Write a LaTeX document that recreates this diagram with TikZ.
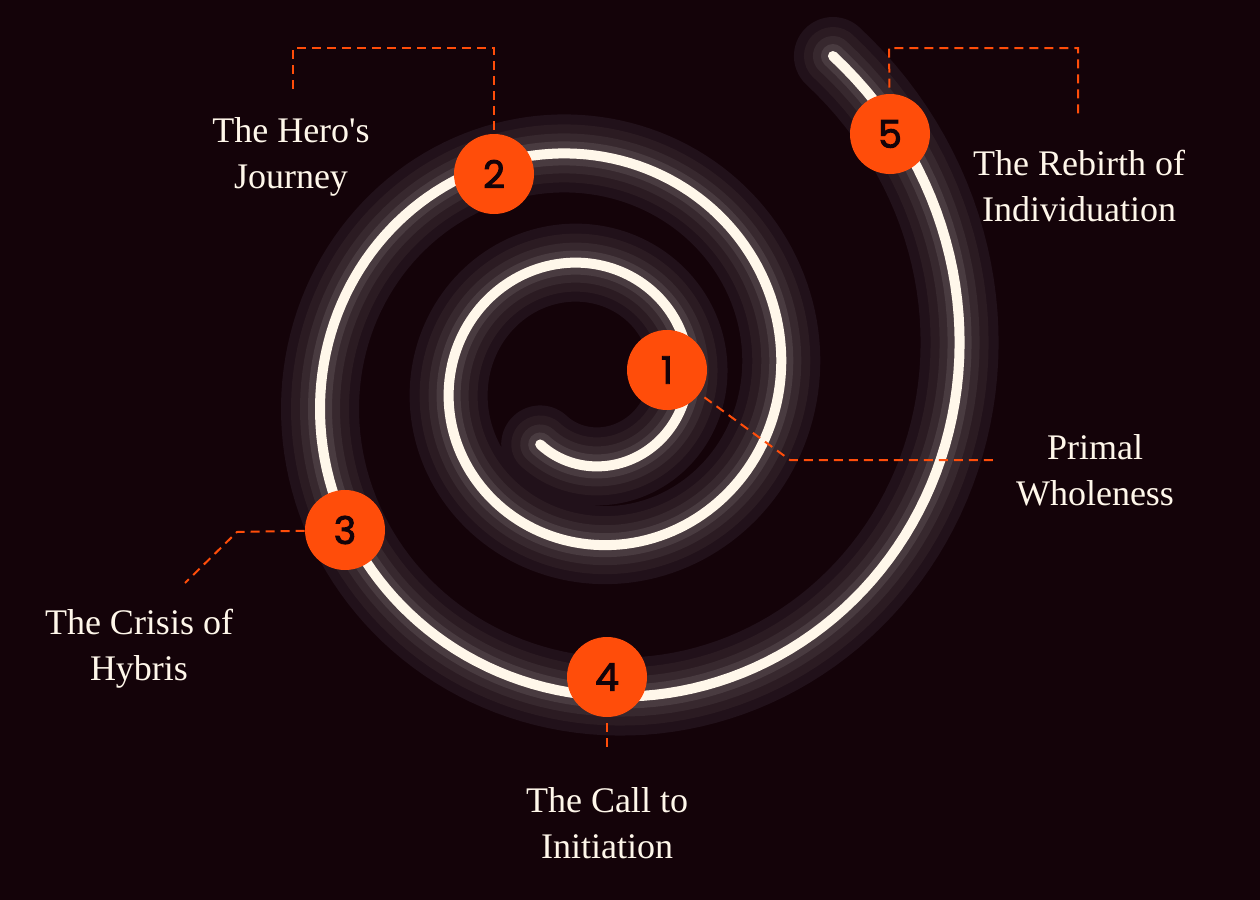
\documentclass[tikz,border=0pt]{standalone}
\usepackage{fontspec}
\setmainfont{Liberation Serif}[Ligatures=TeXOff]
\newfontfamily\numfont{Poppins}[FakeBold=2.5]
\definecolor{bgdark}{HTML}{140309}
\definecolor{flame}{HTML}{FF4D0A}
\definecolor{cream}{HTML}{FFF7EA}
\definecolor{haloA}{HTML}{21111A}
\definecolor{haloB}{HTML}{2B1B22}
\definecolor{haloC}{HTML}{37282E}
\definecolor{haloD}{HTML}{493B40}
\begin{document}
\begin{tikzpicture}[
    x=0.5pt, y=-0.5pt,
    stage/.style={circle, fill=flame, minimum size=40pt, inner sep=0pt, font=\numfont\fontsize{19}{19}\selectfont, text=bgdark},
    caption/.style={align=center, text=cream, font=\fontsize{18}{23}\selectfont},
    leader/.style={flame, line width=1pt, dash pattern=on 4.5pt off 3pt}
]
    \fill[bgdark] (0,0) rectangle (1260,900);
    \useasboundingbox (0,0) rectangle (1260,900);

    % glowing spiral, widest layer first
    \foreach \w/\c in {78/haloA, 58/haloB, 40/haloC, 24/haloD, 10/cream}
        \draw[\c, line width=\w*0.5pt, line cap=round]
            plot[domain=-127:773, samples=400, variable=\t]
            ({588+100*exp(0.00181*\t)*cos(\t)}, {381-100*exp(0.00181*\t)*sin(\t)});

    \node [stage] (s1) at (667,370) {1};
    \node [stage] (s2) at (494,174) {2};
    \node [stage] (s3) at (345,530) {3};
    \node [stage] (s4) at (607,677) {4};
    \node [stage] (s5) at (890,134) {5};

    \node [caption] (primal) at (1095,470) {Primal\\Wholeness};
    \node [caption] (hero) at (291,157) {The Hero's\\Journey};
    \node [caption] (crisis) at (139,649) {The Crisis of\\Hybris};
    \node [caption] (call) at (607,823) {The Call to\\Initiation};
    \node [caption] (rebirth) at (1079,186) {The Rebirth of\\Individuation};

    \coordinate (k1) at (790,460);
    \coordinate (e1) at (998,460);
    \coordinate (k2a) at (494,48);
    \coordinate (k2b) at (293,48);
    \coordinate (e2) at (293,90);
    \coordinate (k3) at (237,532);
    \coordinate (e3) at (185,583);
    \coordinate (e4) at (607,750);
    \coordinate (k5a) at (889,48);
    \coordinate (k5b) at (1078,48);
    \coordinate (e5) at (1078,116);

    \draw [leader, shorten <=3pt] (s1) -- (k1) -- (e1);
    \draw [leader, shorten <=2pt] (s2) -- (k2a) -- (k2b) -- (e2);
    \draw [leader] (s3) -- (k3) -- (e3);
    \draw [leader, shorten <=3pt] (s4) -- (e4);
    \draw [leader, shorten <=3pt] (s5) -- (k5a) -- (k5b) -- (e5);
\end{tikzpicture}
\end{document}
